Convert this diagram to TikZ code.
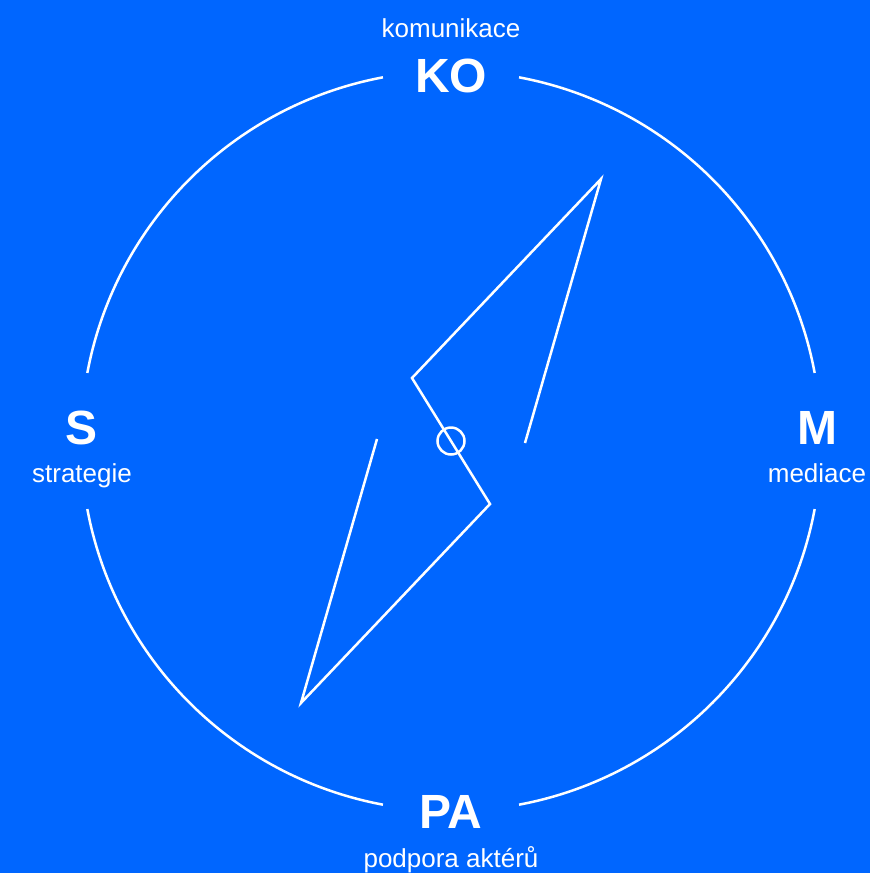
\documentclass[tikz,border=0pt]{standalone}
\usepackage{fontspec}
\setmainfont{Liberation Sans}
\usetikzlibrary{positioning,calc}
\definecolor{field}{HTML}{0066FF}
\definecolor{ink}{HTML}{FFFFFF}
\tikzset{
  rim/.style={draw=ink,line width=2.5pt},
  needle/.style={draw=ink,line width=2.5pt,line join=miter},
  big/.style={text=ink,inner sep=0pt,anchor=base,font=\fontsize{48}{48}\selectfont\bfseries},
  small/.style={text=ink,inner sep=0pt,anchor=base,font=\fontsize{26}{26}\selectfont},
}

\begin{document}
\begin{tikzpicture}[x=1pt,y=-1pt]
  % ── the field ──
  \fill[field] (0,0) rectangle (870,873);
  \useasboundingbox (0,0) rectangle (870,873);
  \coordinate (c) at (451,441);

  % ── the rim, broken at the four letters ──
  \foreach \a in {0,90,180,270}
    \draw[rim] ($(c)+(\a+10.6:370)$) arc[start angle=\a+10.6,end angle=\a+79.4,radius=370];

  % ── labels ──
  \node[small] (ko-t) at (451,37) {komunikace};
  \node[big]   (ko)   at (451,92) {KO};
  \node[big]   (s)    at (82,444) {S};
  \node[small] (s-t)  at (82,482) {strategie};
  \node[big]   (m)    at (817,444) {M};
  \node[small] (m-t)  at (817,482) {mediace};
  \node[big]   (pa)   at (451,828) {PA};
  \node[small] (pa-t) at (451,867) {podpora aktérů};

  % ── the needle, point-symmetric about the pivot ──
  \coordinate (n1) at (525,443);
  \coordinate (n2) at (601,179);
  \coordinate (n3) at (412,378);
  \coordinate (n4) at (490,504);
  \coordinate (n5) at (301,703);
  \coordinate (n6) at (377,439);
  \draw[needle] (n1) -- (n2) -- (n3) -- (n4) -- (n5) -- (n6);
  \draw[rim] (c) circle (13.5);
\end{tikzpicture}
\end{document}
